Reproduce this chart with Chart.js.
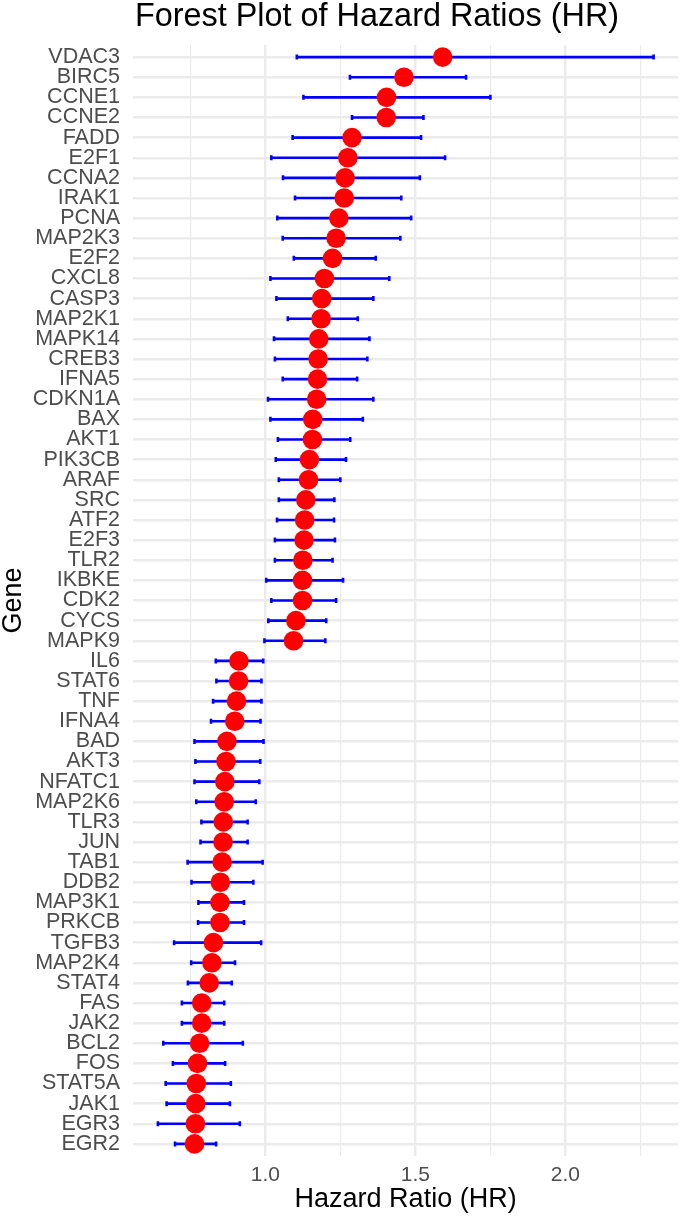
<!DOCTYPE html>
<html>
<head>
<meta charset="utf-8">
<script src="https://cdn.jsdelivr.net/npm/chart.js@4.4.1/dist/chart.umd.min.js"></script>
<style>
  body { margin: 0; background: #fff; }
  #wrap { width: 688px; height: 1221px; position: relative; }
</style>
</head>
<body>
<div id="wrap"><canvas id="forest"></canvas></div>
<script>
// genes, top to bottom
const genes = ['VDAC3','BIRC5','CCNE1','CCNE2','FADD','E2F1','CCNA2','IRAK1','PCNA','MAP2K3',
  'E2F2','CXCL8','CASP3','MAP2K1','MAPK14','CREB3','IFNA5','CDKN1A','BAX','AKT1',
  'PIK3CB','ARAF','SRC','ATF2','E2F3','TLR2','IKBKE','CDK2','CYCS','MAPK9',
  'IL6','STAT6','TNF','IFNA4','BAD','AKT3','NFATC1','MAP2K6','TLR3','JUN',
  'TAB1','DDB2','MAP3K1','PRKCB','TGFB3','MAP2K4','STAT4','FAS','JAK2','BCL2',
  'FOS','STAT5A','JAK1','EGR3','EGR2'];

const hr = [1.591,1.462,1.404,1.403,1.289,1.275,1.266,1.263,1.245,1.236,
  1.224,1.197,1.188,1.186,1.178,1.176,1.174,1.171,1.158,1.157,
  1.147,1.144,1.135,1.131,1.129,1.125,1.124,1.124,1.102,1.094,
  0.912,0.911,0.904,0.898,0.872,0.869,0.865,0.863,0.860,0.859,
  0.856,0.850,0.849,0.849,0.827,0.822,0.813,0.788,0.788,0.781,
  0.774,0.770,0.768,0.767,0.764];

const lower = [1.105,1.282,1.127,1.289,1.091,1.020,1.059,1.099,1.040,1.058,
  1.095,1.017,1.037,1.075,1.029,1.032,1.058,1.009,1.017,1.042,
  1.035,1.045,1.045,1.039,1.032,1.032,1.003,1.020,1.010,0.997,
  0.835,0.837,0.826,0.819,0.764,0.767,0.764,0.770,0.787,0.784,
  0.741,0.754,0.777,0.776,0.696,0.753,0.742,0.722,0.722,0.660,
  0.692,0.668,0.671,0.642,0.699];

const upper = [2.294,1.669,1.750,1.527,1.519,1.599,1.515,1.453,1.486,1.450,
  1.368,1.413,1.360,1.308,1.347,1.340,1.306,1.360,1.325,1.283,
  1.269,1.250,1.230,1.229,1.232,1.224,1.259,1.236,1.203,1.200,
  0.993,0.987,0.987,0.984,0.994,0.983,0.980,0.968,0.941,0.941,
  0.991,0.960,0.929,0.929,0.986,0.899,0.888,0.863,0.863,0.925,
  0.866,0.885,0.882,0.915,0.836];

const xTicks = [0.75, 1.0, 1.25, 1.5, 1.75, 2.0, 2.25];

const FONT = "'Liberation Sans', Arial, sans-serif";

// horizontal CI lines with caps, drawn under the points
const errorBars = {
  id: 'errorBars',
  beforeDatasetsDraw(chart) {
    const c = chart.ctx, xs = chart.scales.x, ys = chart.scales.y;
    c.save();
    c.strokeStyle = '#0000ff';
    c.lineWidth = 2.6;
    for (let i = 0; i < genes.length; i++) {
      const y = ys.getPixelForValue(i);
      const x1 = xs.getPixelForValue(lower[i]);
      const x2 = xs.getPixelForValue(upper[i]);
      c.beginPath();
      c.moveTo(x1, y); c.lineTo(x2, y);
      c.moveTo(x1, y - 2.5); c.lineTo(x1, y + 2.5);
      c.moveTo(x2, y - 2.5); c.lineTo(x2, y + 2.5);
      c.stroke();
    }
    c.restore();
  }
};

// plot title
const titleText = {
  id: 'titleText',
  afterDraw(chart) {
    const c = chart.ctx;
    c.save();
    c.fillStyle = '#000';
    c.font = '32.4px ' + FONT;
    c.textAlign = 'center';
    c.textBaseline = 'alphabetic';
    c.fillText('Forest Plot of Hazard Ratios (HR)', 377, 26);
    c.restore();
  }
};

new Chart(document.getElementById('forest'), {
  type: 'scatter',
  data: {
    datasets: [{
      label: 'HR',
      data: hr.map((v, i) => ({ x: v, y: i })),
      backgroundColor: '#ff0000',
      borderWidth: 0,
      pointRadius: 9.8,
      pointHoverRadius: 9.8
    }]
  },
  plugins: [errorBars, titleText],
  options: {
    responsive: true,
    maintainAspectRatio: false,
    animation: false,
    layout: { padding: { top: 45, left: 0, right: 0, bottom: 0 } },
    plugins: {
      legend: { display: false },
      tooltip: { enabled: false },
      title: { display: false }
    },
    scales: {
      x: {
        type: 'linear',
        min: 0.559,
        max: 2.376,
        afterBuildTicks: (s) => { s.ticks = xTicks.map(v => ({ value: v })); },
        afterFit: (s) => { s.height = 65; },
        ticks: {
          autoSkip: false,
          padding: 7,
          color: '#4d4d4d',
          font: { family: FONT, size: 21 },
          callback: (v) => (Math.abs(v * 2 - Math.round(v * 2)) < 1e-6 ? v.toFixed(1) : '')
        },
        grid: {
          color: '#ebebeb',
          lineWidth: (ctx) => (ctx.tick && Math.abs(ctx.tick.value * 2 - Math.round(ctx.tick.value * 2)) < 1e-6 ? 2.4 : 1.2),
          drawTicks: false
        },
        border: { display: false },
        title: {
          display: true,
          text: 'Hazard Ratio (HR)',
          color: '#000',
          font: { family: FONT, size: 27, lineHeight: 1 },
          padding: { top: 0, bottom: 8 }
        }
      },
      y: {
        type: 'linear',
        min: -0.6,
        max: genes.length - 0.4,
        reverse: true,
        afterBuildTicks: (s) => { s.ticks = genes.map((g, i) => ({ value: i })); },
        afterFit: (s) => { s.width = 133; },
        ticks: {
          autoSkip: false,
          padding: 13,
          color: '#4d4d4d',
          font: { family: FONT, size: 21.5 },
          callback: (v) => genes[v]
        },
        grid: { color: '#ebebeb', lineWidth: 2.4, drawTicks: false },
        border: { display: false },
        title: {
          display: true,
          text: 'Gene',
          color: '#000',
          font: { family: FONT, size: 27, lineHeight: 1 },
          padding: { top: 0, bottom: 0 }
        }
      }
    }
  }
});
</script>
</body>
</html>
